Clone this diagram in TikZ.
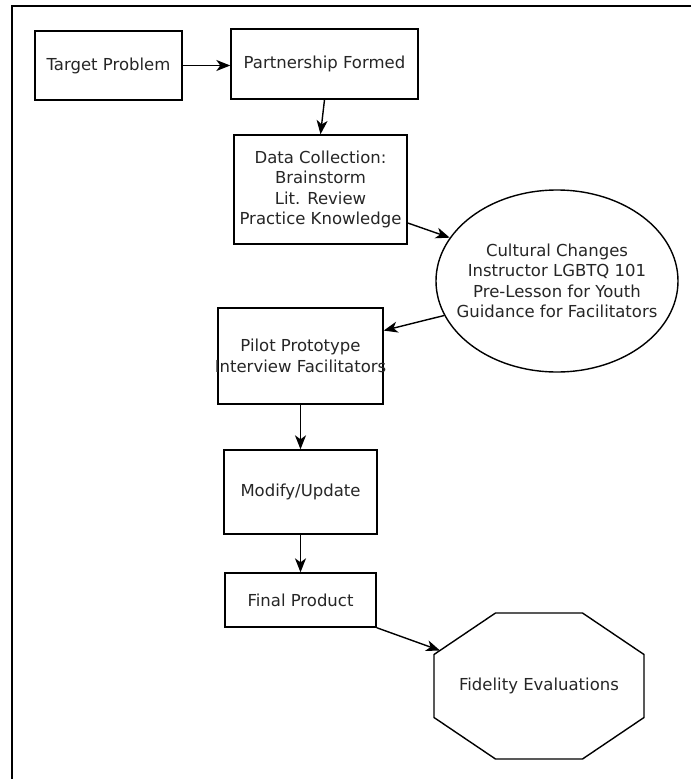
\documentclass[tikz,border=0pt]{standalone}
\usepackage{fontspec}
\setmainfont{DejaVu Sans}
\usetikzlibrary{arrows.meta,shapes.geometric,calc}
\begin{document}
\begin{tikzpicture}[x=1pt,y=-1pt,
  every node/.style={font=\fontsize{16.5}{20.5}\selectfont, text=black!85},
  box/.style={draw, line width=1.4pt, inner sep=0pt, align=center},
  outline/.style={line width=1.4pt},
  link/.style={line width=1.4pt, -{Stealth[length=14pt,width=11pt,inset=4pt]}},
]
\useasboundingbox (0,0) rectangle (691,779);
\fill[white] (0,0) rectangle (691,779);

% page frame: top and left rules only
\draw[line width=2.4pt] (691,6) -- (12,6) -- (12,779);

% process boxes
\node[box, minimum width=147pt, minimum height=69pt] (target) at (108.5,65.5) {Target Problem};
\node[box, minimum width=187pt, minimum height=70pt] (partner) at (324.5,64) {Partnership Formed};
\node[box, minimum width=173pt, minimum height=109pt] (data) at (320.5,189.5)
  {Data Collection:\\Brainstorm\\Lit. Review\\Practice Knowledge};
\node[box, minimum width=165pt, minimum height=96pt] (pilot) at (300.5,356) {};
\node[align=center] (pilottext) at (pilot.center) {Pilot Prototype\\Interview Facilitators};
\node[box, minimum width=153pt, minimum height=84pt] (modify) at (300.5,492) {Modify/Update};
\node[box, minimum width=151pt, minimum height=54pt] (final) at (300.5,600) {Final Product};

% cultural changes ellipse
\node[ellipse, draw, outline, minimum width=242pt, minimum height=182pt, inner sep=0pt] (cult) at (557,281) {};
\node[align=center] (culttext) at (cult.center)
  {Cultural Changes\\Instructor LGBTQ 101\\Pre-Lesson for Youth\\Guidance for Facilitators};

% fidelity octagon
\node (fid) at (539,686) {Fidelity Evaluations};
\draw[outline] ($(fid)+(-105,-31.5)$) -- ($(fid)+(-43.5,-73)$) -- ($(fid)+(43.5,-73)$)
  -- ($(fid)+(105,-31.5)$) -- ($(fid)+(105,31.5)$) -- ($(fid)+(43.5,73)$)
  -- ($(fid)+(-43.5,73)$) -- ($(fid)+(-105,31.5)$) -- cycle;
\coordinate (fidin) at ($(fid)+(-99,-35.5)$);

% connectors
\draw[link] (target.east) -- (target.east -| partner.west);
\draw[link] (partner.south) -- (data.north);
\draw[link] (data.-21) -- (cult.158);
\draw[link] (cult.197) -- (pilot.17.5);
\draw[link] (pilot.south) -- (modify.north);
\draw[link] (modify.south) -- (final.north);
\draw[link] (final.south east) -- (fidin);
\end{tikzpicture}
\end{document}
